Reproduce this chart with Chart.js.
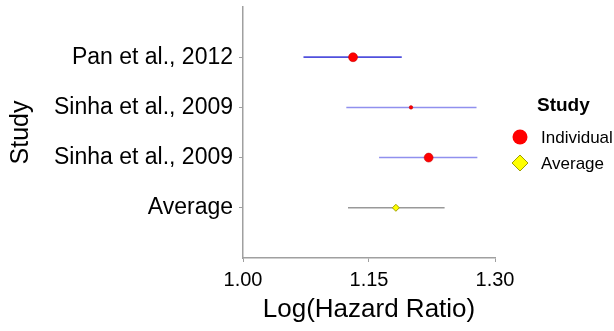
<!DOCTYPE html>
<html>
<head>
<meta charset="utf-8">
<script src="https://cdn.jsdelivr.net/npm/chart.js@4"></script>
<style>
  html, body { margin: 0; padding: 0; background: #fff; }
  #wrap { width: 614px; height: 331px; }
</style>
</head>
<body>
<div id="wrap"><canvas id="forestChart" width="614" height="331"></canvas></div>
<script>
// --------- STUDY DATA ----------
const studies = ['Pan et al., 2012', 'Sinha et al., 2009', 'Sinha et al., 2009', 'Average'];
const estimates = [1.131, 1.200, 1.221, 1.182];
const lowerCI = [1.072, 1.123, 1.162, 1.125];
const upperCI = [1.189, 1.278, 1.279, 1.240];
const pointSizes = [4.5, 1.8, 4.5, 3.5];
const xTicks = [1.00, 1.15, 1.30];

const ciColors = ['#5050dd', '#9090ee', '#9090ee', '#999999'];
const ciWidths = [1.8, 1.5, 1.5, 1.5];

// one dataset per confidence interval line
const ciDatasets = studies.map((s, i) => ({
    type: 'line',
    data: [{ x: lowerCI[i], y: i + 1 }, { x: upperCI[i], y: i + 1 }],
    borderColor: ciColors[i],
    borderWidth: ciWidths[i],
    pointRadius: 0,
    fill: false,
    order: 2
}));

const individualData = [];
const averageData = [];
studies.forEach((s, i) => {
    const pt = { x: estimates[i], y: i + 1, r: pointSizes[i] };
    if (s === 'Average') averageData.push(pt); else individualData.push(pt);
});

const fontFamily = '"Liberation Sans", Arial, sans-serif';
const axisColor = '#a0a0a0';

// ---------- legend drawn beside the plot ----------
const studyLegend = {
    id: 'studyLegend',
    afterDraw(chart) {
        const ctx = chart.ctx;
        ctx.save();
        ctx.fillStyle = '#000';
        ctx.textBaseline = 'middle';
        ctx.font = 'bold 19px ' + fontFamily;
        ctx.fillText('Study', 537, 106);
        ctx.font = '17px ' + fontFamily;

        ctx.beginPath();
        ctx.arc(520, 137, 7.5, 0, Math.PI * 2);
        ctx.fillStyle = '#ff0000';
        ctx.fill();
        ctx.fillStyle = '#000';
        ctx.fillText('Individual', 541, 138);

        ctx.beginPath();
        ctx.moveTo(520, 155); ctx.lineTo(528, 163); ctx.lineTo(520, 171); ctx.lineTo(512, 163);
        ctx.closePath();
        ctx.fillStyle = '#ffff00';
        ctx.fill();
        ctx.strokeStyle = '#a0a000';
        ctx.lineWidth = 1;
        ctx.stroke();
        ctx.fillStyle = '#000';
        ctx.fillText('Average', 541, 164);
        ctx.restore();
    }
};

new Chart(document.getElementById('forestChart').getContext('2d'), {
    type: 'scatter',
    data: {
        datasets: [
            ...ciDatasets,
            {
                label: 'Individual',
                data: individualData,
                backgroundColor: '#ff0000',
                borderColor: '#c00000',
                borderWidth: 0.5,
                pointRadius: individualData.map(p => p.r),
                order: 1
            },
            {
                label: 'Average',
                data: averageData,
                pointStyle: 'rectRot',
                backgroundColor: '#ffff00',
                borderColor: '#a0a000',
                borderWidth: 1,
                pointRadius: averageData.map(p => p.r),
                order: 1
            }
        ]
    },
    options: {
        responsive: false,
        animation: false,
        layout: { padding: { top: 7, right: 119, left: 0, bottom: 0 } },
        plugins: { legend: { display: false }, tooltip: { enabled: false } },
        scales: {
            x: {
                type: 'linear',
                min: 1.0,
                max: 1.3,
                afterBuildTicks: s => { s.ticks = xTicks.map(v => ({ value: v })); },
                afterFit: s => { s.height = 73; s.paddingLeft = 0; s.paddingRight = 0; },
                ticks: {
                    color: '#000',
                    font: { family: fontFamily, size: 20 },
                    padding: 6,
                    maxRotation: 0,
                    callback: v => v.toFixed(2)
                },
                grid: { drawOnChartArea: false, tickLength: 4, color: axisColor },
                border: { color: axisColor, width: 1.5 },
                title: {
                    display: true,
                    text: 'Log(Hazard Ratio)',
                    color: '#000',
                    font: { family: fontFamily, size: 26 },
                    padding: { top: 2, bottom: 6 }
                }
            },
            y: {
                type: 'linear',
                reverse: true,
                min: 0,
                max: 5,
                afterBuildTicks: s => { s.ticks = studies.map((t, i) => ({ value: i + 1 })); },
                afterFit: s => { s.width = 243; s.paddingTop = 0; s.paddingBottom = 0; },
                ticks: {
                    color: '#000',
                    font: { family: fontFamily, size: 23 },
                    padding: 6,
                    callback: v => studies[v - 1]
                },
                grid: { drawOnChartArea: false, tickLength: 4, color: axisColor },
                border: { color: axisColor, width: 1.5 },
                title: {
                    display: true,
                    text: 'Study',
                    color: '#000',
                    font: { family: fontFamily, size: 25 },
                    padding: { top: 6, bottom: 0 }
                }
            }
        }
    },
    plugins: [studyLegend]
});
</script>
</body>
</html>
